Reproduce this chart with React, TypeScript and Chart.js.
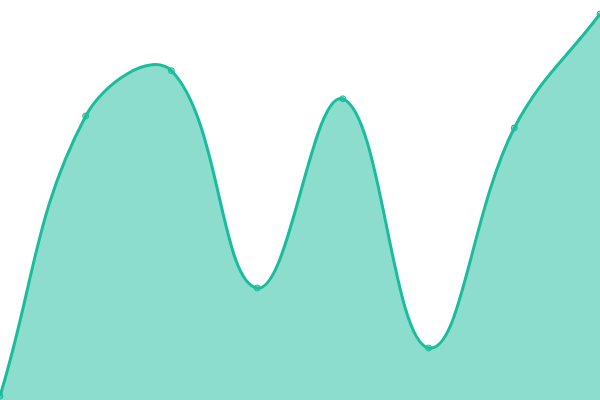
import React, { useEffect, useRef } from 'react';
import { Chart, registerables } from 'chart.js';

Chart.register(...registerables);

const labels = ['A', 'B', 'C', 'D', 'E', 'F', 'G', 'H'];
const values = [1, 71, 82.3, 28, 75.3, 13, 68, 96.5];

const LINE = '#1abc9c';
const FILL = 'rgba(26, 188, 156, 0.5)';

export default function App() {
  const chartRef = useRef<HTMLCanvasElement>(null);
  const chartInstance = useRef<Chart | null>(null);

  useEffect(() => {
    document.body.style.margin = '0';
    if (!chartRef.current) return;
    if (chartInstance.current) chartInstance.current.destroy();

    const ctx = chartRef.current.getContext('2d');
    if (!ctx) return;

    chartInstance.current = new Chart(ctx, {
      type: 'line',
      data: {
        labels,
        datasets: [
          {
            data: values,
            borderColor: LINE,
            backgroundColor: FILL,
            borderWidth: 3,
            fill: 'origin',
            tension: 0.4,
            pointRadius: 3,
            pointBorderWidth: 1,
            pointBackgroundColor: FILL,
            pointBorderColor: LINE,
          },
        ],
      },
      options: {
        animation: false,
        responsive: true,
        maintainAspectRatio: false,
        layout: { padding: 0, autoPadding: false },
        plugins: {
          legend: { display: false },
          tooltip: { enabled: false },
        },
        scales: {
          x: { display: false, offset: false },
          y: { display: false, min: 0, max: 100 },
        },
      },
    });

    return () => {
      if (chartInstance.current) {
        chartInstance.current.destroy();
        chartInstance.current = null;
      }
    };
  }, []);

  return (
    <div style={{ position: 'fixed', left: 0, top: 0, width: 600, height: 400 }}>
      <canvas ref={chartRef}></canvas>
    </div>
  );
}
